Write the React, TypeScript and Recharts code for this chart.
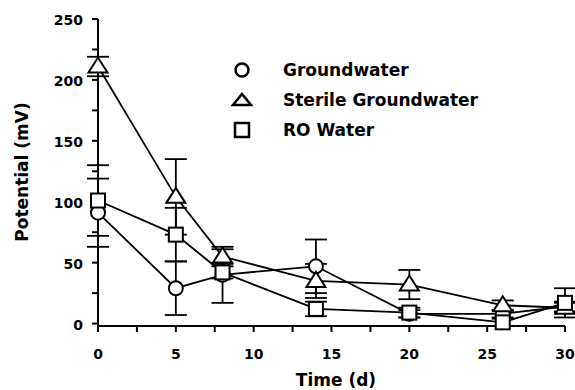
import React from 'react';
import { LineChart, Line, XAxis, YAxis, ErrorBar, Legend, Label } from 'recharts';

const times = [0, 5, 8, 14, 20, 26, 30];
const groundwater = [91, 29, 40, 47, 8, 8, 14];
const groundwaterErr = [28, 22, 23, 22, 3, 3, 4];
const sterile = [211, 104, 55, 35, 32, 15, 13];
const sterileErr = [8, 31, 6, 14, 12, 4, 4];
const roWater = [101, 73, 42, 12, 9, 1, 17];
const roWaterErr = [29, 22, 5, 6, 4, 3, 12];

const xTicks = [0, 2.5, 5, 7.5, 10, 12.5, 15, 17.5, 20, 22.5, 25, 27.5, 30];
const yTicks = [0, 25, 50, 75, 100, 125, 150, 175, 200, 225, 250];
const seriesNames = ['Groundwater', 'Sterile Groundwater', 'RO Water'];

const data = times.map((t, i) => ({
  t,
  gw: groundwater[i],
  gwErr: groundwaterErr[i],
  sg: sterile[i],
  sgErr: sterileErr[i],
  ro: roWater[i],
  roErr: roWaterErr[i],
}));

const FONT = '"DejaVu Sans", Verdana, sans-serif';

const CircleMark = (props: any) => (
  <circle key={`c-${props.index}`} cx={props.cx} cy={props.cy} r={7} fill="#fff" stroke="#000" strokeWidth={2} />
);
const TriMark = (props: any) => {
  const { cx, cy } = props;
  return (
    <polygon
      key={`t-${props.index}`}
      points={`${cx - 9.5},${cy + 6} ${cx + 9.5},${cy + 6} ${cx},${cy - 9}`}
      fill="#fff"
      stroke="#000"
      strokeWidth={2}
      strokeLinejoin="miter"
    />
  );
};
const SquareMark = (props: any) => (
  <rect key={`s-${props.index}`} x={props.cx - 7} y={props.cy - 7} width={14} height={14} fill="#fff" stroke="#000" strokeWidth={2} />
);

const XTick = (props: any) => {
  const { x, y, payload } = props;
  if (payload.value % 5 !== 0) return <g />;
  return (
    <text x={x} y={y} dy={19} textAnchor="middle" fontFamily={FONT} fontWeight="bold" fontSize={14} fill="#000">
      {payload.value}
    </text>
  );
};
const YTick = (props: any) => {
  const { x, y, payload } = props;
  if (payload.value % 50 !== 0) return <g />;
  return (
    <text x={x} y={y} dy={6} textAnchor="end" fontFamily={FONT} fontWeight="bold" fontSize={14} fill="#000">
      {payload.value}
    </text>
  );
};

const legendIcons = [
  <circle cx={12} cy={15} r={6.5} fill="#fff" stroke="#000" strokeWidth={2.5} />,
  <polygon points="3,20 21,20 12,9" fill="#fff" stroke="#000" strokeWidth={2.5} />,
  <rect x={5} y={8} width={14} height={14} fill="#fff" stroke="#000" strokeWidth={2.5} />,
];

const LegendContent = () => (
  <div style={{ fontFamily: FONT, fontWeight: 'bold', fontSize: 17, color: '#000' }}>
    {seriesNames.map((n, i) => (
      <div key={n} style={{ display: 'flex', alignItems: 'center', height: 30 }}>
        <svg width={24} height={30}>{legendIcons[i]}</svg>
        <span style={{ marginLeft: 29, whiteSpace: 'nowrap' }}>{n}</span>
      </div>
    ))}
  </div>
);

export default function App() {
  return (
    <div style={{ position: 'absolute', left: 0, top: 0, width: 575, height: 390, background: '#fff' }}>
      <LineChart width={575} height={390} data={data} margin={{ top: 19, right: 10, bottom: 0, left: 0 }}>
        <XAxis
          type="number"
          dataKey="t"
          domain={[0, 30]}
          ticks={xTicks}
          interval={0}
          height={64}
          tickSize={6}
          tickMargin={8}
          tick={<XTick />}
          axisLine={{ stroke: '#000', strokeWidth: 2 }}
          tickLine={{ stroke: '#000', strokeWidth: 2 }}
        >
          <Label
            content={() => (
              <text x={336} y={386} textAnchor="middle" fontFamily={FONT} fontWeight="bold" fontSize={17} fill="#000">
                Time (d)
              </text>
            )}
          />
        </XAxis>
        <YAxis
          type="number"
          domain={[0, 250]}
          ticks={yTicks}
          interval={0}
          width={98}
          tickSize={6}
          tickMargin={9}
          tick={<YTick />}
          axisLine={{ stroke: '#000', strokeWidth: 2 }}
          tickLine={{ stroke: '#000', strokeWidth: 2 }}
        >
          <Label
            content={() => (
              <text
                x={28}
                y={172}
                transform="rotate(-90 28 172)"
                textAnchor="middle"
                fontFamily={FONT}
                fontWeight="bold"
                fontSize={17}
                fill="#000"
              >
                Potential (mV)
              </text>
            )}
          />
        </YAxis>
        <Legend
          layout="vertical"
          align="center"
          verticalAlign="middle"
          content={<LegendContent />}
          wrapperStyle={{ left: 230, top: 55, width: 260 }}
        />
        <Line
          dataKey="gw"
          name={seriesNames[0]}
          stroke="#000"
          strokeWidth={1.8}
          isAnimationActive={false}
          dot={CircleMark}
          activeDot={false}
        >
          <ErrorBar dataKey="gwErr" direction="y" width={11} stroke="#000" strokeWidth={1.8} />
        </Line>
        <Line
          dataKey="sg"
          name={seriesNames[1]}
          stroke="#000"
          strokeWidth={1.8}
          isAnimationActive={false}
          dot={TriMark}
          activeDot={false}
        >
          <ErrorBar dataKey="sgErr" direction="y" width={11} stroke="#000" strokeWidth={1.8} />
        </Line>
        <Line
          dataKey="ro"
          name={seriesNames[2]}
          stroke="#000"
          strokeWidth={1.8}
          isAnimationActive={false}
          dot={SquareMark}
          activeDot={false}
        >
          <ErrorBar dataKey="roErr" direction="y" width={11} stroke="#000" strokeWidth={1.8} />
        </Line>
      </LineChart>
    </div>
  );
}
